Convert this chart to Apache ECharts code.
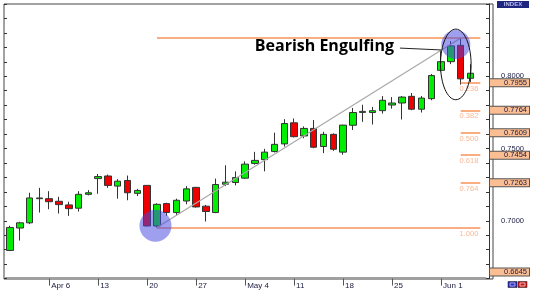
<!DOCTYPE html>
<html><head><meta charset="utf-8">
<script src="https://cdn.jsdelivr.net/npm/echarts@6/dist/echarts.min.js"></script>
<style>html,body{margin:0;padding:0;background:#fff}#main{width:533px;height:293px}</style>
</head><body><div id="main"></div>
<script>
// ---- data ----
const dates = ['Mar 31','Apr 1','Apr 2','Apr 3',
  'Apr 6','Apr 7','Apr 8','Apr 9','Apr 10',
  'Apr 13','Apr 14','Apr 15','Apr 16','Apr 17',
  'Apr 20','Apr 21','Apr 22','Apr 23','Apr 24',
  'Apr 27','Apr 28','Apr 29','Apr 30','May 1',
  'May 4','May 5','May 6','May 7','May 8',
  'May 11','May 12','May 13','May 14','May 15',
  'May 18','May 19','May 20','May 21','May 22',
  'May 25','May 26','May 27','May 28','May 29',
  'Jun 1','Jun 2','Jun 3','Jun 4'];
const padCategory = ' ';
// [open, close, low, high]
const ohlc = [
  [0.6795,0.6954,0.6790,0.6966],[0.6950,0.6986,0.6863,0.6993],[0.6986,0.7158,0.6977,0.7194],[0.7153,0.7158,0.7057,0.7228],
  [0.7153,0.7132,0.7080,0.7205],[0.7135,0.7112,0.7050,0.7166],[0.7110,0.7084,0.7034,0.7132],[0.7087,0.7183,0.7064,0.7205],[0.7183,0.7194,0.7176,0.7212],
  [0.7292,0.7306,0.7187,0.7324],[0.7310,0.7245,0.7228,0.7320],[0.7240,0.7274,0.7153,0.7288],[0.7279,0.7194,0.7142,0.7313],[0.7190,0.7210,0.7171,0.7221],
  [0.7245,0.6964,0.6962,0.7247],[0.6964,0.7114,0.6954,0.7121],[0.7119,0.7057,0.7034,0.7125],[0.7057,0.7142,0.7041,0.7153],[0.7137,0.7221,0.7114,0.7240],
  [0.7231,0.7096,0.7091,0.7235],[0.7101,0.7064,0.6995,0.7110],[0.7057,0.7251,0.7053,0.7292],[0.7253,0.7267,0.7240,0.7384],[0.7265,0.7299,0.7245,0.7342],
  [0.7295,0.7392,0.7290,0.7411],[0.7397,0.7418,0.7388,0.7477],[0.7423,0.7475,0.7342,0.7498],[0.7479,0.7529,0.7473,0.7610],[0.7532,0.7673,0.7514,0.7703],
  [0.7678,0.7582,0.7577,0.7708],[0.7587,0.7639,0.7571,0.7653],[0.7639,0.7509,0.7502,0.7697],[0.7514,0.7598,0.7468,0.7616],[0.7598,0.7495,0.7484,0.7605],
  [0.7475,0.7662,0.7457,0.7664],[0.7661,0.7749,0.7628,0.7781],[0.7750,0.7757,0.7685,0.7803],[0.7749,0.7762,0.7666,0.7788],[0.7762,0.7834,0.7742,0.7863],
  [0.7801,0.7815,0.7776,0.7856],[0.7815,0.7856,0.7701,0.7863],[0.7861,0.7772,0.7765,0.7884],[0.7772,0.7849,0.7749,0.7863],[0.7845,0.8005,0.7834,0.8016],
  [0.8041,0.8101,0.8032,0.8176],[0.8101,0.8210,0.8084,0.8243],[0.8214,0.7982,0.7942,0.8264],[0.7986,0.8021,0.7959,0.8084]
];
const tickDates = ['Apr 6','Apr 13','Apr 20','Apr 27','May 4','May 11','May 18','May 25','Jun 1'];
const tickLabels = ['Apr 6','13','20','27','May 4','11','18','25','Jun 1'];
const swingLowDate = 'Apr 21', swingLow = 0.6954;
const swingHighDate = 'Jun 3', swingHigh = 0.8264;
const fibRatios = ['0.236','0.382','0.500','0.618','0.764'];
const fibPrices = [0.7955,0.7764,0.7609,0.7454,0.7263];
const axisTickValues = [0.66,0.85,0.01];           // min, max, step
const markerPrices = [0.7955,0.7764,0.7609,0.7454,0.7263,0.6645];
const noteText = 'Bearish Engulfing';

// ---- chart ----
const cats = dates.concat([padCategory]);
const lastCat = padCategory;
const orange = '#f7925a';
const fibLabelColor = '#f9b896';
const fibLines = [];
fibLines.push([{coord:[swingLowDate, swingHigh], label:{show:false}}, {coord:[lastCat, swingHigh]}]);
fibRatios.forEach((r,i)=>{
  fibLines.push([{coord:[swingHighDate, fibPrices[i]], label:{show:true, formatter:r}}, {coord:[lastCat, fibPrices[i]]}]);
});
fibLines.push([{coord:[swingLowDate, swingLow], label:{show:true, formatter:'1.000'}}, {coord:[lastCat, swingLow]}]);
const trend = [[{coord:[swingLowDate, swingLow], lineStyle:{color:'#a9a9a9', width:1.2}, label:{show:false}}, {coord:[swingHighDate, swingHigh]}]];

const labelColor = '#1a1a40';
const font = 'Liberation Sans, Arial, sans-serif';
const isTick = (idx, val) => tickDates.indexOf(val) >= 0;

const option = {
  animation:false,
  backgroundColor:'#fff',
  grid:[
    {left:5.06, right:43.8, top:1.6, bottom:14.4, show:false},
    {left:4, right:40, top:4, bottom:14, show:true, borderColor:'#444', borderWidth:1, backgroundColor:'transparent', z:0}
  ],
  xAxis:[
    {type:'category', gridIndex:0, data:cats, boundaryGap:true,
     axisLine:{show:true, lineStyle:{color:'#a0a0a0', width:3}},
     axisTick:{show:true, alignWithLabel:true, interval:isTick, length:7, lineStyle:{color:'#555'}},
     axisLabel:{interval:isTick, formatter:(v)=>tickLabels[tickDates.indexOf(v)] || '', align:'left', margin:3,
       padding:[0,0,0,2], fontSize:8, fontFamily:font, color:labelColor},
     splitLine:{show:false}},
    {type:'category', gridIndex:1, show:false, data:cats}
  ],
  yAxis:[
    {type:'value', gridIndex:0, position:'right', offset:3.8, min:axisTickValues[0], max:axisTickValues[1], interval:axisTickValues[2],
     axisLine:{show:true, lineStyle:{color:'#333', width:1}},
     axisTick:{show:true, inside:true, length:3, lineStyle:{color:'#333'}},
     splitLine:{show:false},
     axisLabel:{margin:1, formatter:(v)=>{ const k=Math.round(v*100); return (k%5===0)? '{n|'+v.toFixed(4)+'}' : ''; },
       rich:{n:{width:34, align:'right', fontSize:7.5, fontFamily:font, color:labelColor}}}},
    {type:'value', gridIndex:0, position:'left', offset:1.06, min:axisTickValues[0], max:axisTickValues[1], interval:axisTickValues[2],
     axisLine:{show:false}, axisTick:{show:true, inside:true, length:3, lineStyle:{color:'#333'}},
     axisLabel:{show:false}, splitLine:{show:false}},
    {type:'value', gridIndex:0, position:'right', offset:3.8, min:axisTickValues[0], max:axisTickValues[1],
     axisLine:{show:false}, axisTick:{show:false}, splitLine:{show:false},
     axisLabel:{margin:1, customValues:markerPrices, formatter:(v)=>'{h|'+v.toFixed(4)+'}',
       rich:{h:{width:37, height:7, lineHeight:8, align:'right', padding:[0,2,0,0], backgroundColor:'#fbbd92',
         borderColor:'#555', borderWidth:1, fontSize:7.5, fontFamily:font, color:labelColor}}}},
    {type:'value', gridIndex:1, show:false}
  ],
  series:[
    {type:'candlestick', xAxisIndex:0, yAxisIndex:0, data:ohlc, barWidth:7,
     itemStyle:{color:'#00ee00', color0:'#ee0000', borderColor:'#333', borderColor0:'#333', borderWidth:1},
     markLine:{symbol:['none','none'], silent:true, animation:false,
       lineStyle:{color:orange, width:1.5, type:'solid'},
       label:{show:true, position:'insideEndBottom', distance:2, color:fibLabelColor, fontSize:7.5, fontFamily:font},
       data:fibLines.concat(trend)}}
  ]
};
const chart = echarts.init(document.getElementById('main'), null, {renderer:'canvas'});
chart.setOption(option);

// ---- annotations anchored to data coordinates ----
function px(idx, price){
  const i0 = Math.floor(idx), f = idx - i0;
  const a = chart.convertToPixel({gridIndex:0}, [i0, price]);
  const b = chart.convertToPixel({gridIndex:0}, [i0+1, price]);
  return [a[0] + (b[0]-a[0])*f, a[1]];
}
const c1 = px(14.85, 0.6966);
const c2 = px(45.5, 0.8219);
const el = px(45.5, 0.8082);
const lnA = px(39.8, 0.8195), lnB = px(44.0, 0.8182);
const blue = 'rgba(70,70,225,0.52)';
chart.setOption({graphic:[
  {type:'circle', shape:{cx:c1[0], cy:c1[1], r:16}, style:{fill:blue}, z:100},
  {type:'circle', shape:{cx:c2[0], cy:c2[1], r:14.5}, style:{fill:blue}, z:100},
  {type:'ellipse', shape:{cx:el[0], cy:el[1], rx:15.3, ry:35.3}, style:{fill:'none', stroke:'#111', lineWidth:1}, z:101},
  {type:'line', shape:{x1:lnA[0], y1:lnA[1], x2:lnB[0], y2:lnB[1]}, style:{stroke:'#222', lineWidth:1}, z:101},
  {type:'text', x:lnA[0]-6, y:lnA[1]-1.5, style:{text:noteText, fill:'#000', font:'bold 16px "Open Sans", sans-serif', textAlign:'right', textVerticalAlign:'middle'}, z:102},
  {type:'rect', shape:{x:497, y:1, width:32, height:7}, style:{fill:'#1f2680'}, z:102},
  {type:'text', x:513, y:4.5, style:{text:'INDEX', fill:'#b8bcf0', font:'bold 6px "Liberation Sans", sans-serif', textAlign:'center', textVerticalAlign:'middle'}, z:103},
  {type:'rect', shape:{x:508, y:281.5, width:9, height:6}, style:{fill:'#2a2ab8', stroke:'#111', lineWidth:0.5}, z:102},
  {type:'rect', shape:{x:510, y:283, width:5, height:3}, style:{fill:'none', stroke:'#c8c8ff', lineWidth:0.8}, z:103},
  {type:'rect', shape:{x:518, y:281.5, width:9, height:6}, style:{fill:'#c81818', stroke:'#111', lineWidth:0.5}, z:102},
  {type:'rect', shape:{x:520, y:283, width:5, height:3}, style:{fill:'none', stroke:'#ffd0d0', lineWidth:0.8}, z:103}
]});
</script></body></html>
